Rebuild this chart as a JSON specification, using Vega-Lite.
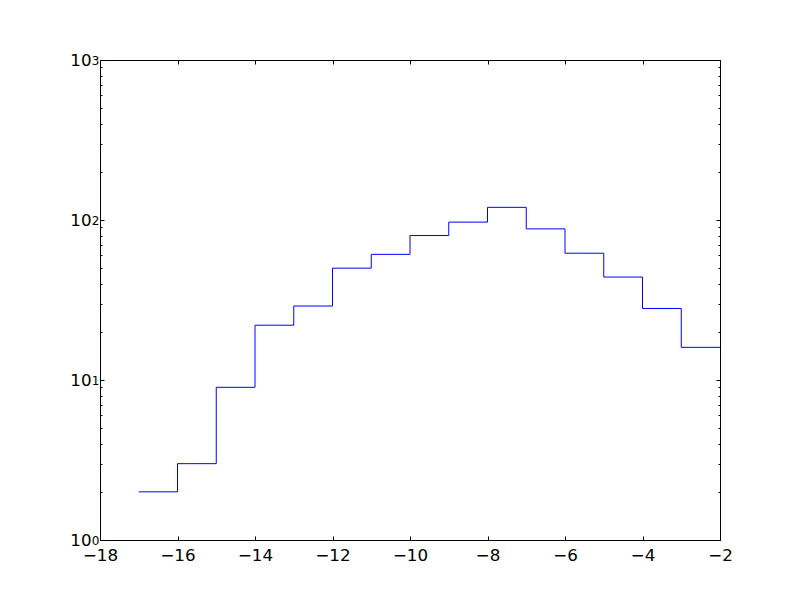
{
  "$schema": "https://vega.github.io/schema/vega-lite/v6.json",
  "width": 620,
  "height": 480,
  "autosize": "none",
  "padding": {"left": 100, "top": 60, "right": 80, "bottom": 60},
  "background": "white",
  "config": {
    "view": {"stroke": "black", "strokeWidth": 1},
    "axis": {"grid": false, "domain": false, "labelFlush": false, "labelOverlap": false, "labelFont": "DejaVu Sans", "labelFontSize": 16.7, "labelColor": "black", "tickColor": "black", "title": null}
  },
  "data": {"values": [
    {"edge": -17, "count": 2},
    {"edge": -16, "count": 3},
    {"edge": -15, "count": 9},
    {"edge": -14, "count": 22},
    {"edge": -13, "count": 29},
    {"edge": -12, "count": 50},
    {"edge": -11, "count": 61},
    {"edge": -10, "count": 80},
    {"edge": -9, "count": 97},
    {"edge": -8, "count": 120},
    {"edge": -7, "count": 88},
    {"edge": -6, "count": 62},
    {"edge": -5, "count": 44},
    {"edge": -4, "count": 28},
    {"edge": -3, "count": 16},
    {"edge": -2, "count": 16}
  ]},
  "layer": [
    {
      "mark": {"type": "line", "interpolate": "step-after", "color": "#0000ff", "strokeWidth": 1, "clip": true},
      "encoding": {
        "x": {"field": "edge", "type": "quantitative", "scale": {"domain": [-18, -2], "nice": false, "zero": false},
              "axis": {"orient": "bottom", "values": [-18, -16, -14, -12, -10, -8, -6, -4, -2], "ticks": false, "labelPadding": 7, "labelFontSize": 16.7, "labelFlush": false, "format": "d"}},
        "y": {"field": "count", "type": "quantitative", "scale": {"type": "log", "domain": [1, 1000], "nice": false},
              "axis": {"orient": "left", "values": [1, 10, 100, 1000], "ticks": false, "labelPadding": 9, "labelDy": 1.5, "labelFontSize": 16.7, "labelFlush": false, "labelExpr": "'10'"}}
      }
    },
    {
      "mark": {"type": "line", "opacity": 0},
      "encoding": {
        "x": {"field": "edge", "type": "quantitative", "axis": {"orient": "top", "values": [-18, -16, -14, -12, -10, -8, -6, -4, -2], "tickSize": -4, "labels": false}},
        "y": {"field": "count", "type": "quantitative", "axis": {"orient": "right", "values": [1, 10, 100, 1000], "tickSize": -4, "labels": false}}
      }
    },
    {
      "mark": {"type": "line", "opacity": 0},
      "encoding": {
        "x": {"field": "edge", "type": "quantitative", "axis": {"orient": "bottom", "values": [-18, -16, -14, -12, -10, -8, -6, -4, -2], "tickSize": -4, "labels": false}},
        "y": {"field": "count", "type": "quantitative", "axis": {"orient": "left", "values": [1, 10, 100, 1000], "tickSize": -4, "labels": false}}
      }
    },
    {
      "mark": {"type": "line", "opacity": 0},
      "encoding": {
        "x": {"field": "edge", "type": "quantitative", "axis": null},
        "y": {"field": "count", "type": "quantitative", "axis": {"orient": "left", "values": [2,3,4,5,6,7,8,9,20,30,40,50,60,70,80,90,200,300,400,500,600,700,800,900], "tickSize": -2, "labels": false}}
      }
    },
    {
      "mark": {"type": "line", "opacity": 0},
      "encoding": {
        "x": {"field": "edge", "type": "quantitative", "axis": null},
        "y": {"field": "count", "type": "quantitative", "axis": {"orient": "right", "values": [2,3,4,5,6,7,8,9,20,30,40,50,60,70,80,90,200,300,400,500,600,700,800,900], "tickSize": -2, "labels": false}}
      }
    },
    {
      "mark": {"type": "line", "opacity": 0},
      "encoding": {
        "x": {"field": "edge", "type": "quantitative", "axis": null},
        "y": {"field": "count", "type": "quantitative", "axis": {"orient": "left", "values": [1, 10, 100, 1000], "ticks": false, "labelPadding": 1, "labelFontSize": 12, "labelFlush": false, "labelDy": -5,
              "labelExpr": "datum.value == 1 ? '0' : datum.value == 10 ? '1' : datum.value == 100 ? '2' : '3'"}}
      }
    }
  ],
  "resolve": {"axis": {"x": "independent", "y": "independent"}}
}
